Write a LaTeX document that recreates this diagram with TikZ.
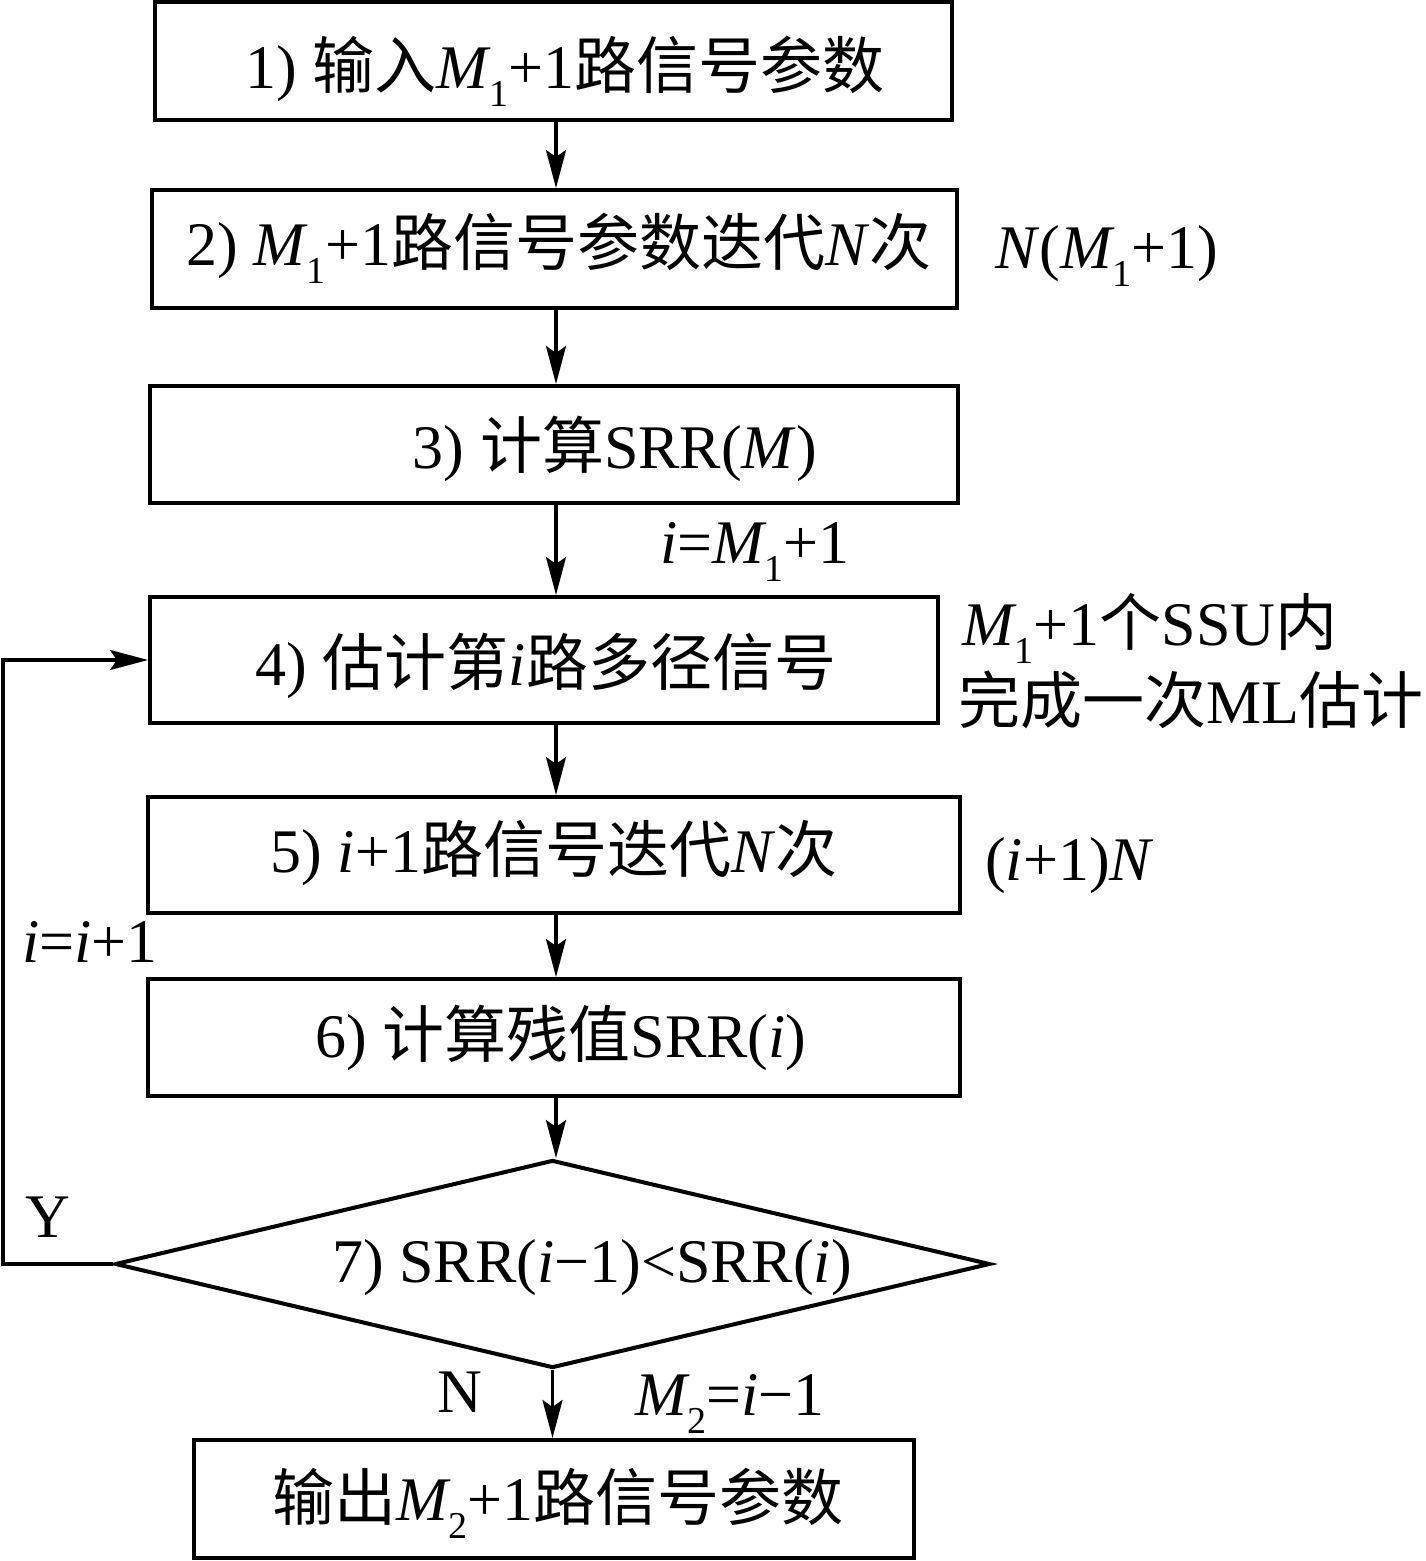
\documentclass[tikz,border=0pt]{standalone}
\usepackage{fontspec}
\setmainfont{Liberation Serif}
\newfontfamily\cjk{Noto Sans CJK SC}
\usetikzlibrary{shapes.geometric,arrows.meta}
\newcommand\zh[1]{{\cjk #1}}
\newcommand\Ms[1]{\textit{M}\kern-2pt\raisebox{-0.3em}{\fontsize{38}{38}\selectfont #1}}
\tikzset{
  box/.style={draw,line width=4pt,minimum width=#1,inner sep=0pt},
  txt/.style={inner sep=0pt,anchor=base,font=\fontsize{62}{68}\selectfont},
  arr/.style={line width=3.5pt,-{Stealth[length=38pt,width=20pt,inset=7pt]}}
}
\begin{document}
\begin{tikzpicture}[x=1pt,y=1pt]
\useasboundingbox (0,0) rectangle (1426,-1561);
\coordinate (ax) at (556,0);
% boxes
\node[box=797pt,minimum height=118pt] (b1) at (553.5,-61) {};
\node[box=805pt,minimum height=118pt] (b2) at (554.5,-249) {};
\node[box=808pt,minimum height=117pt] (b3) at (554,-444.5) {};
\node[box=788pt,minimum height=126pt] (b4) at (544,-660) {};
\node[box=812pt,minimum height=116pt] (b5) at (554,-855) {};
\node[box=812pt,minimum height=117pt] (b6) at (554,-1037.5) {};
\node[draw,line width=4pt,diamond,aspect=4.2,minimum width=875pt,minimum height=208pt,inner sep=0pt] (d) at (552.5,-1264) {};
\node[box=720pt,minimum height=118pt] (b8) at (554,-1499) {};
% texts
\node[txt] (t1) at (565,-88) {1) \zh{输入}\Ms{1}+1\zh{路信号参数}};
\node[txt] (t2) at (559,-265) {2) \Ms{1}+1\zh{路信号参数迭代}\textit{N}\zh{次}};
\node[txt] (t3) at (615,-468) {3) \zh{计算}SRR(\textit{M})};
\node[txt] (t4) at (546,-685) {4) \zh{估计第}\textit{i}\zh{路多径信号}};
\node[txt] (t5) at (554,-872) {5) \textit{i}+1\zh{路信号迭代}\textit{N}\zh{次}};
\node[txt] (t6) at (561,-1057) {6) \zh{计算残值}SRR(\textit{i})};
\node[txt] (t7) at (592,-1282) {7) SRR(\textit{i}−1)<SRR(\textit{i})};
\node[txt] (t8) at (558,-1520) {\zh{输出}\Ms{2}+1\zh{路信号参数}};
% side labels
\node[txt,anchor=base west] (l2) at (995,-268) {\textit{N}(\Ms{1}+1)};
\node[txt] (l3) at (755,-563) {\textit{i}=\Ms{1}+1};
\node[txt,anchor=base west] (l4a) at (962,-645) {\Ms{1}+1\zh{个}SSU\zh{内}};
\node[txt,anchor=base west] (l4b) at (958,-723) {\zh{完成一次}ML\zh{估计}};
\node[txt,anchor=base west] (l5) at (985,-880) {(\textit{i}+1)\textit{N}};
\node[txt,anchor=base west] (ll) at (22,-962) {\textit{i}=\textit{i}+1};
\node[txt] (ly) at (48,-1237) {Y};
\node[txt] (ln) at (460,-1412) {N};
\node[txt,anchor=base west] (lm) at (635,-1415) {\Ms{2}=\textit{i}−1};
% arrows
\draw[arr] (b1.south -| ax) -- (b2.north -| ax);
\draw[arr] (b2.south -| ax) -- (b3.north -| ax);
\draw[arr] (b3.south -| ax) -- (b4.north -| ax);
\draw[arr] (b4.south -| ax) -- (b5.north -| ax);
\draw[arr] (b5.south -| ax) -- (b6.north -| ax);
\draw[arr] (b6.south -| ax) -- (d.north -| ax);
\draw[arr] (d.south) -- (d.south |- b8.north);
\draw[arr] (d.west) -- ++(-110,0) |- (b4.west);
\end{tikzpicture}
\end{document}
